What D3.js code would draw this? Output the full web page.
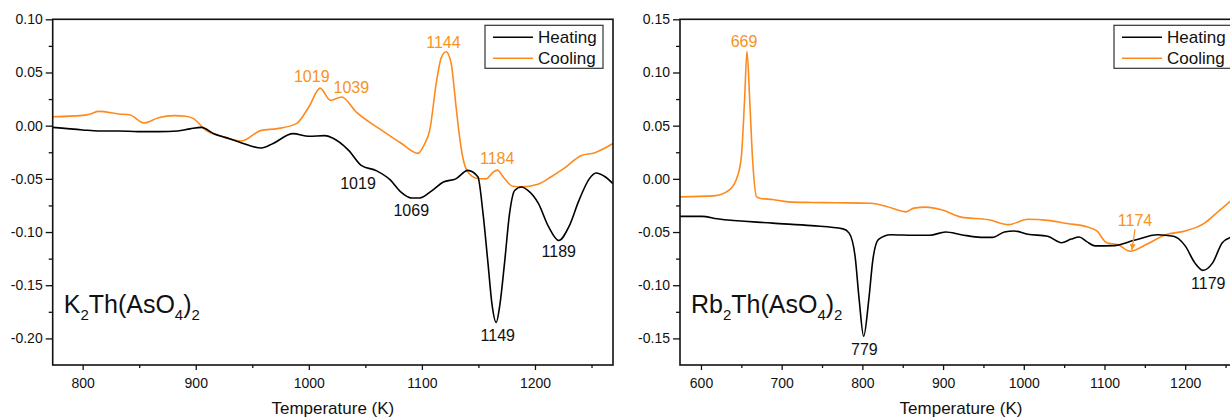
<!DOCTYPE html>
<html>
<head>
<meta charset="utf-8">
<script src="https://cdn.jsdelivr.net/npm/d3@7"></script>
<style>
  body { margin: 0; background: #fff; }
  svg { display: block; font-family: "Liberation Sans", Arial, sans-serif; }
</style>
</head>
<body>
<svg id="chart" width="1230" height="418"></svg>
<script>
// K2Th(AsO4)2 panel
const k_heat_t = [773.5, 800, 814, 832, 849, 867, 884, 895, 905, 916, 926, 940, 958, 968, 986, 1000, 1014, 1021, 1035, 1046, 1060, 1072, 1081, 1091, 1098, 1109, 1119, 1130, 1140.6, 1149.5, 1154, 1158.5, 1162, 1165.7, 1169, 1173, 1177.6, 1182, 1188, 1194, 1203, 1212, 1221, 1230, 1239, 1248, 1254, 1262, 1269];
const k_heat = [-0.0016, -0.004, -0.005, -0.005, -0.0056, -0.0056, -0.005, -0.003, -0.0016, -0.0075, -0.011, -0.016, -0.021, -0.017, -0.0075, -0.010, -0.0094, -0.0116, -0.023, -0.037, -0.0425, -0.051, -0.062, -0.068, -0.068, -0.061, -0.053, -0.050, -0.042, -0.048, -0.082, -0.13, -0.168, -0.185, -0.168, -0.13, -0.082, -0.061, -0.0576, -0.061, -0.073, -0.095, -0.108, -0.095, -0.070, -0.050, -0.0445, -0.048, -0.0545];
const k_cool_t = [773.5, 800, 807, 814, 832, 842, 854, 867, 881, 891, 898, 909, 923, 940, 958, 972, 989, 1000, 1010, 1019, 1029, 1042, 1064, 1082, 1096.5, 1102, 1107, 1112.7, 1117, 1121.4, 1125.8, 1130, 1133, 1136, 1140.6, 1149.5, 1156.8, 1162.7, 1166.6, 1173, 1180.4, 1188, 1202.6, 1214.4, 1226, 1241, 1252.5, 1269];
const k_cool = [0.0084, 0.0097, 0.011, 0.0134, 0.011, 0.010, 0.0025, 0.0075, 0.0094, 0.0088, 0.0066, -0.0044, -0.010, -0.0144, -0.0044, -0.0028, 0.0019, 0.0175, 0.0353, 0.0238, 0.0269, 0.0128, -0.004, -0.0168, -0.026, -0.018, -0.004, 0.040, 0.0635, 0.0695, 0.059, 0.020, -0.008, -0.029, -0.0435, -0.0497, -0.050, -0.044, -0.0418, -0.0497, -0.057, -0.0575, -0.055, -0.048, -0.040, -0.028, -0.0256, -0.0168];
const k_xticks = [800, 900, 1000, 1100, 1200];
const k_yticks = [-0.20, -0.15, -0.10, -0.05, 0.00, 0.05, 0.10];
const k_labels = [
    {text: '1019', t: 1002.6, v: 0.041, series: 'cool'},
    {text: '1039', t: 1037.6, v: 0.0306, series: 'cool'},
    {text: '1144', t: 1119, v: 0.0733, series: 'cool'},
    {text: '1184', t: 1166.6, v: -0.0363, series: 'cool'},
    {text: '1019', t: 1043.5, v: -0.0592, series: 'heat'},
    {text: '1069', t: 1090.6, v: -0.0853, series: 'heat'},
    {text: '1149', t: 1167.1, v: -0.202, series: 'heat'},
    {text: '1189', t: 1221, v: -0.1236, series: 'heat'}
];

// Rb2Th(AsO4)2 panel
const r_heat_t = [574, 601, 620, 688.6, 737, 776, 783.6, 791, 796, 801.6, 808, 813, 820, 835, 864, 883.5, 903, 922.5, 946.8, 961, 976, 988, 1005, 1029.6, 1046.7, 1058.8, 1068.6, 1078, 1088, 1112, 1136.8, 1166, 1185.5, 1200, 1212, 1222, 1234, 1246, 1257.6, 1270];
const r_heat = [-0.0353, -0.0353, -0.0375, -0.0416, -0.044, -0.047, -0.051, -0.073, -0.1134, -0.148, -0.113, -0.076, -0.057, -0.0525, -0.053, -0.053, -0.050, -0.0525, -0.055, -0.055, -0.050, -0.049, -0.052, -0.054, -0.060, -0.0566, -0.0547, -0.059, -0.063, -0.0628, -0.0578, -0.0525, -0.054, -0.063, -0.079, -0.086, -0.079, -0.060, -0.0547, -0.053];
const r_cool_t = [574, 615.6, 635, 645, 650, 654, 657, 660.4, 664, 669, 674, 688.6, 708, 737, 766.6, 810, 830, 854, 864, 878.6, 898, 922.5, 956.5, 981, 1005, 1029.6, 1054, 1078, 1090.5, 1102.7, 1117, 1132, 1151, 1176, 1200, 1224, 1239, 1257.6, 1270];
const r_cool = [-0.0169, -0.016, -0.0106, 0.0019, 0.0206, 0.074, 0.12, 0.074, 0.0175, -0.017, -0.0184, -0.0194, -0.0216, -0.0222, -0.0225, -0.023, -0.026, -0.031, -0.0275, -0.0266, -0.029, -0.036, -0.0384, -0.043, -0.038, -0.039, -0.042, -0.045, -0.049, -0.060, -0.062, -0.068, -0.062, -0.0525, -0.049, -0.0416, -0.032, -0.020, -0.012];
const r_xticks = [600, 700, 800, 900, 1000, 1100, 1200];
const r_yticks = [-0.15, -0.10, -0.05, 0.00, 0.05, 0.10, 0.15];
const r_labels = [
    {text: '669', t: 653.3, v: 0.1237, series: 'cool'},
    {text: '1174', t: 1137.8, v: -0.0446, series: 'cool', arrow: {t: 1134, v: -0.067}},
    {text: '779', t: 802.5, v: -0.166, series: 'heat'},
    {text: '1179', t: 1228.6, v: -0.1036, series: 'heat'}
];

const legend_names = ['Heating', 'Cooling'];
const colors = {heat: '#000000', cool: '#ff8a1c'};

class DtaPanel {
    constructor (config, data) {
        this.config = config;
        this.data = data;
        this.init();
        this.render();
    }

    init() {
        let self = this;
        self.svg = d3.select(self.config.parent);
        self.chart = self.svg.append('g');

        self.xscale = d3.scaleLinear()
            .domain(self.config.xdomain)
            .range([self.config.left, self.config.right]);
        self.yscale = d3.scaleLinear()
            .domain(self.config.ydomain)
            .range([self.config.bottom, self.config.top]);

        const clip_id = 'clip-' + self.config.id;
        self.svg.append('clipPath').attr('id', clip_id)
            .append('rect')
            .attr('x', self.config.left)
            .attr('y', self.config.top)
            .attr('width', self.config.right - self.config.left)
            .attr('height', self.config.bottom - self.config.top);
        self.plot = self.chart.append('g').attr('clip-path', `url(#${clip_id})`);
    }

    render() {
        let self = this;
        const c = self.config;

        // minor ticks
        const xmin = d3.range(c.xdomain[0] - c.xdomain[0] % 50 + 50, c.xdomain[1], 50)
            .filter(d => d % 100 !== 0);
        self.chart.append('g')
            .attr('transform', `translate(0, ${c.bottom})`)
            .call(d3.axisBottom(self.xscale).tickValues(xmin).tickSize(3).tickFormat(''))
            .call(g => g.select('.domain').remove());
        const ymin = c.yticks.slice(0, -1).map(d => d + 0.025)
            .concat([c.yticks[0] - 0.025])
            .filter(d => d > c.ydomain[0] + 1e-6);
        self.chart.append('g')
            .attr('transform', `translate(${c.left}, 0)`)
            .call(d3.axisLeft(self.yscale).tickValues(ymin).tickSize(4).tickFormat(''))
            .call(g => g.select('.domain').remove());

        // major ticks
        self.chart.append('g')
            .attr('transform', `translate(0, ${c.bottom})`)
            .call(d3.axisBottom(self.xscale).tickValues(c.xticks).tickSize(5).tickPadding(8).tickFormat(d3.format('d')))
            .call(g => g.select('.domain').remove())
            .selectAll('text')
            .attr('font-size', '14px')
            .attr('font-family', '"Liberation Sans", Arial, sans-serif')
            .attr('fill', '#111');
        self.chart.append('g')
            .attr('transform', `translate(${c.left}, 0)`)
            .call(d3.axisLeft(self.yscale).tickValues(c.yticks).tickSize(7).tickPadding(3).tickFormat(d => d.toFixed(2)))
            .call(g => g.select('.domain').remove())
            .selectAll('text')
            .attr('font-size', '14px')
            .attr('font-family', '"Liberation Sans", Arial, sans-serif')
            .attr('fill', '#111');
        self.chart.selectAll('.tick line').attr('stroke', '#111').attr('stroke-width', 1.3);

        // curves
        const line = d3.line()
            .x(d => self.xscale(d[0]))
            .y(d => self.yscale(d[1]))
            .curve(d3.curveMonotoneX);
        [['cool', self.data.cool_t, self.data.cool], ['heat', self.data.heat_t, self.data.heat]].forEach(s => {
            self.plot.append('path')
                .datum(d3.zip(s[1], s[2]))
                .attr('fill', 'none')
                .attr('stroke', colors[s[0]])
                .attr('stroke-width', 1.6)
                .attr('stroke-linejoin', 'round')
                .attr('d', line);
        });

        // frame
        self.chart.append('rect')
            .attr('x', c.left).attr('y', c.top)
            .attr('width', c.right - c.left)
            .attr('height', c.bottom - c.top)
            .attr('fill', 'none')
            .attr('stroke', '#111')
            .attr('stroke-width', 1.6);

        // peak labels
        self.chart.selectAll('.peak')
            .data(self.data.labels)
            .join('text')
            .attr('class', 'peak')
            .attr('x', d => self.xscale(d.t))
            .attr('y', d => self.yscale(d.v))
            .attr('text-anchor', 'middle')
            .attr('font-size', '16px')
            .attr('fill', d => d.series === 'cool' ? '#f7931e' : '#111')
            .text(d => d.text);

        self.data.labels.filter(d => d.arrow).forEach(d => {
            const x0 = self.xscale(d.t), y0 = self.yscale(d.v) + 3;
            const x1 = self.xscale(d.arrow.t), y1 = self.yscale(d.arrow.v);
            self.chart.append('line')
                .attr('x1', x0).attr('y1', y0).attr('x2', x1).attr('y2', y1)
                .attr('stroke', '#f7931e').attr('stroke-width', 1.2);
            const ang = Math.atan2(y1 - y0, x1 - x0);
            const hl = 6, hw = 3;
            const p = [
                [x1, y1],
                [x1 - hl * Math.cos(ang) + hw * Math.sin(ang), y1 - hl * Math.sin(ang) - hw * Math.cos(ang)],
                [x1 - hl * Math.cos(ang) - hw * Math.sin(ang), y1 - hl * Math.sin(ang) + hw * Math.cos(ang)]
            ];
            self.chart.append('path')
                .attr('d', 'M' + p.map(q => q.join(',')).join('L') + 'Z')
                .attr('fill', '#f7931e');
        });

        // compound name
        const name = self.chart.append('text')
            .attr('x', c.left + 11)
            .attr('y', 313)
            .attr('font-size', '25px')
            .attr('fill', '#111');
        c.name.forEach(part => {
            name.append('tspan')
                .attr('font-size', part.sub ? '15px' : '25px')
                .attr('dy', part.sub ? 7 : (part.after ? -7 : 0))
                .text(part.text);
        });

        // axis title
        self.chart.append('text')
            .attr('x', (c.left + c.right) / 2)
            .attr('y', 414)
            .attr('text-anchor', 'middle')
            .attr('font-size', '17px')
            .attr('fill', '#111')
            .text('Temperature (K)');

        // legend
        const lx = c.right - 128, ly = c.top + 6;
        const legend = self.chart.append('g').attr('transform', `translate(${lx}, ${ly})`);
        legend.append('rect')
            .attr('width', 118).attr('height', 43)
            .attr('fill', '#fff')
            .attr('stroke', '#333').attr('stroke-width', 1.2);
        legend_names.forEach((nm, i) => {
            const key = i === 0 ? 'heat' : 'cool';
            const yy = 12 + i * 21;
            legend.append('line')
                .attr('x1', 8).attr('x2', 48).attr('y1', yy).attr('y2', yy)
                .attr('stroke', colors[key]).attr('stroke-width', 1.6);
            legend.append('text')
                .attr('x', 53).attr('y', yy + 6)
                .attr('font-size', '17px')
                .attr('fill', '#111')
                .text(nm);
        });
    }
}

const left_panel = new DtaPanel({
    parent: '#chart', id: 'k',
    left: 52.7, right: 613, top: 19.3, bottom: 365,
    xdomain: [773.5, 1269], ydomain: [-0.225, 0.10],
    xticks: k_xticks, yticks: k_yticks,
    name: [{text: 'K'}, {text: '2', sub: true}, {text: 'Th(AsO', after: true}, {text: '4', sub: true}, {text: ')', after: true}, {text: '2', sub: true}]
}, {heat_t: k_heat_t, heat: k_heat, cool_t: k_cool_t, cool: k_cool, labels: k_labels});

const right_panel = new DtaPanel({
    parent: '#chart', id: 'rb',
    left: 680, right: 1242, top: 19.3, bottom: 365,
    xdomain: [574, 1270.4], ydomain: [-0.175, 0.15],
    xticks: r_xticks, yticks: r_yticks,
    name: [{text: 'Rb'}, {text: '2', sub: true}, {text: 'Th(AsO', after: true}, {text: '4', sub: true}, {text: ')', after: true}, {text: '2', sub: true}]
}, {heat_t: r_heat_t, heat: r_heat, cool_t: r_cool_t, cool: r_cool, labels: r_labels});
</script>
</body>
</html>
